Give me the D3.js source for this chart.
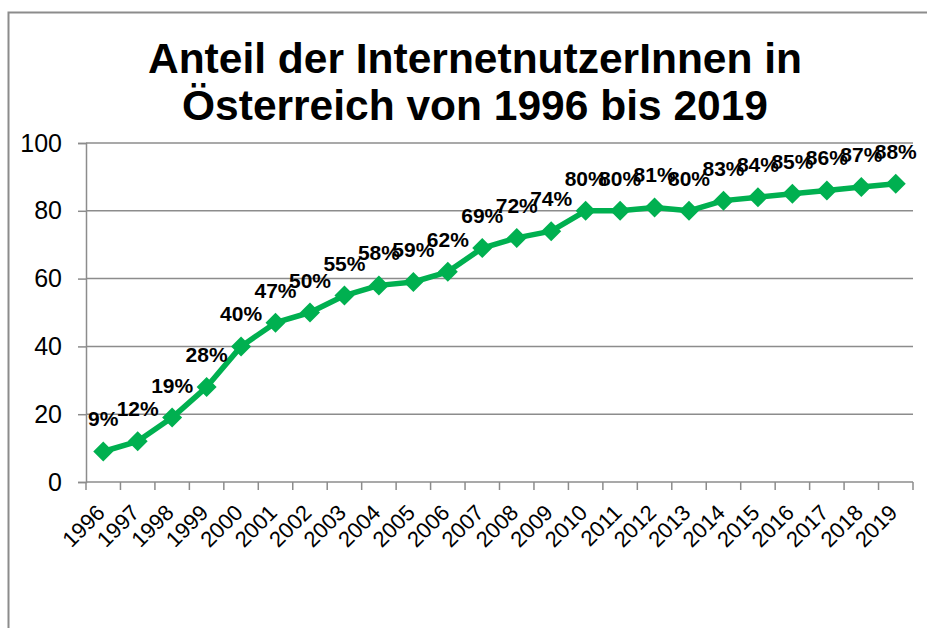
<!DOCTYPE html>
<html>
<head>
<meta charset="utf-8">
<script src="https://cdn.jsdelivr.net/npm/d3@7"></script>
<style>
  body { margin: 0; background: #fff; }
  text { font-family: "Liberation Sans", Arial, sans-serif; }
</style>
</head>
<body>
<div id="chart"></div>
<script>
var years = ["1996","1997","1998","1999","2000","2001","2002","2003","2004","2005","2006","2007",
             "2008","2009","2010","2011","2012","2013","2014","2015","2016","2017","2018","2019"];
var shares = [9,12,19,28,40,47,50,55,58,59,62,69,72,74,80,80,81,80,83,84,85,86,87,88];
var yTicks = [0,20,40,60,80,100];
var titleLines = ["Anteil der InternetnutzerInnen in", "Österreich von 1996 bis 2019"];

var width = 927, height = 628;
var margin = {left: 86, right: 14, top: 143, bottom: 146};

var svg = d3.select("#chart").append("svg")
    .attr("width", width)
    .attr("height", height);

// outer frame (only top and left edges visible)
svg.append("path")
    .attr("d", "M8.5," + height + " V12.5 H" + width)
    .attr("fill", "none")
    .attr("stroke", "#8c8c8c")
    .attr("stroke-width", 2);

var x = d3.scaleBand()
    .domain(years)
    .range([margin.left, width - margin.right]);

var y = d3.scaleLinear()
    .domain([0, 100])
    .range([height - margin.bottom, margin.top]);

// title
svg.append("g").selectAll("text")
    .data(titleLines).enter().append("text")
    .attr("x", 475)
    .attr("y", function(d, i) { return 73 + i * 47; })
    .attr("text-anchor", "middle")
    .attr("font-size", 42.5)
    .attr("font-weight", "bold")
    .text(function(d) { return d; });

// gridlines
svg.append("g").selectAll("line")
    .data(yTicks.filter(function(d) { return d > 0; })).enter().append("line")
    .attr("x1", margin.left).attr("x2", width - margin.right)
    .attr("y1", function(d) { return y(d); })
    .attr("y2", function(d) { return y(d); })
    .attr("stroke", "#8c8c8c")
    .attr("stroke-width", 1.5);

// y axis
var yAxis = svg.append("g")
    .attr("transform", "translate(" + margin.left + ",0)")
    .call(d3.axisLeft(y).tickValues(yTicks).tickSize(8).tickPadding(16));
yAxis.select(".domain").attr("stroke", "#8c8c8c").attr("stroke-width", 1.5);
yAxis.selectAll(".tick line").attr("stroke", "#8c8c8c").attr("stroke-width", 1.5);
yAxis.selectAll(".tick text")
    .attr("font-size", 25)
    .attr("font-family", "Liberation Sans, Arial, sans-serif")
    .attr("fill", "#000");

// x axis with ticks at category boundaries
var xAxisG = svg.append("g")
    .attr("transform", "translate(0," + y(0) + ")");
xAxisG.append("line")
    .attr("x1", margin.left).attr("x2", width - margin.right)
    .attr("stroke", "#8c8c8c").attr("stroke-width", 1.5);
xAxisG.selectAll("line.tk")
    .data(years.concat(["end"])).enter().append("line")
    .attr("class", "tk")
    .attr("x1", function(d, i) { return margin.left + i * x.step(); })
    .attr("x2", function(d, i) { return margin.left + i * x.step(); })
    .attr("y1", 0).attr("y2", 8)
    .attr("stroke", "#8c8c8c").attr("stroke-width", 1.5);
xAxisG.selectAll("text")
    .data(years).enter().append("text")
    .attr("transform", function(d) {
        return "translate(" + (x(d) + x.bandwidth() / 2 + 3) + ",32) rotate(-45)";
    })
    .attr("text-anchor", "end")
    .attr("font-size", 22)
    .text(function(d) { return d; });

// line
var cx = function(d, i) { return x(years[i]) + x.bandwidth() / 2; };
var line = d3.line()
    .x(cx)
    .y(function(d) { return y(d); });

svg.append("path")
    .datum(shares)
    .attr("d", line)
    .attr("fill", "none")
    .attr("stroke", "#00b050")
    .attr("stroke-width", 5.5)
    .attr("stroke-linejoin", "round");

// diamond markers
svg.append("g").selectAll("path")
    .data(shares).enter().append("path")
    .attr("d", "M0,-10 L10,0 L0,10 L-10,0 Z")
    .attr("transform", function(d, i) { return "translate(" + cx(d, i) + "," + y(d) + ")"; })
    .attr("fill", "#00b050");

// value labels
svg.append("g").selectAll("text")
    .data(shares).enter().append("text")
    .attr("x", cx)
    .attr("y", function(d) { return y(d) - 25; })
    .attr("text-anchor", "middle")
    .attr("font-size", 21)
    .attr("font-weight", "bold")
    .text(function(d) { return d + "%"; });
</script>
</body>
</html>
